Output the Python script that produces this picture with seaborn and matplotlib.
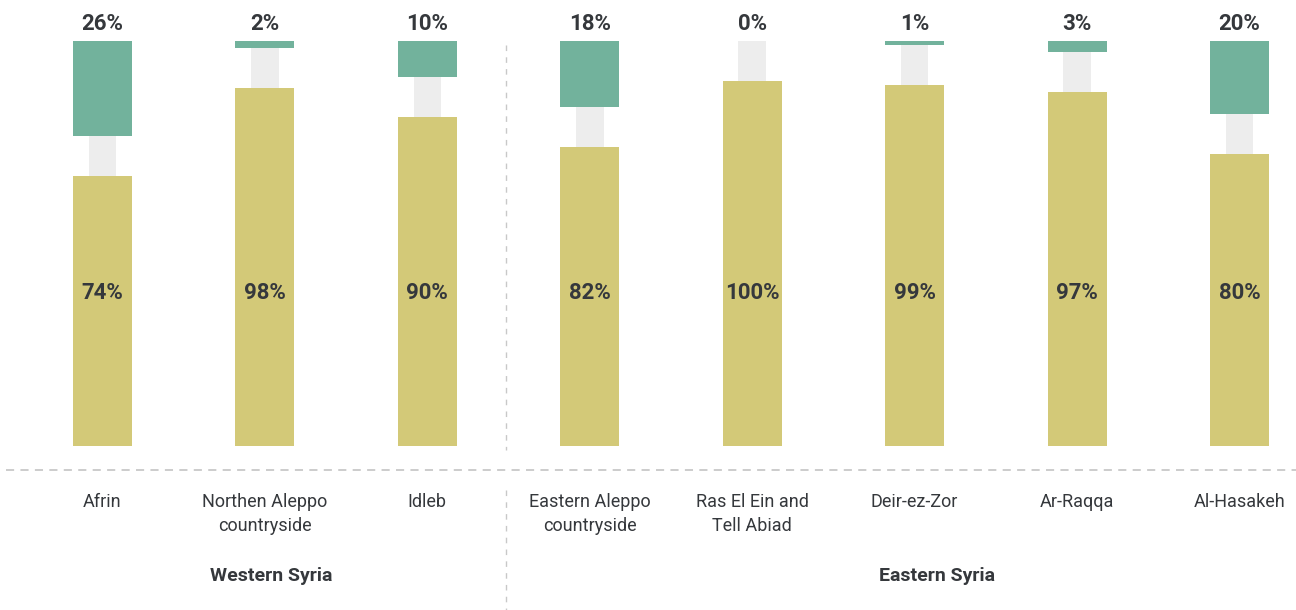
import matplotlib
matplotlib.use("Agg")
import matplotlib.pyplot as plt
import seaborn as sns
import pandas as pd

# Share of each answer per area (percent)
areas = [
    "Afrin",
    "Northen Aleppo\ncountryside",
    "Idleb",
    "Eastern Aleppo\ncountryside",
    "Ras El Ein and\nTell Abiad",
    "Deir-ez-Zor",
    "Ar-Raqqa",
    "Al-Hasakeh",
]
yes_pct = [74, 98, 90, 82, 100, 99, 97, 80]
no_pct = [26, 2, 10, 18, 0, 1, 3, 20]
groups = ["Western Syria", "Eastern Syria"]

YELLOW = "#D3C978"
GREEN = "#72B29C"
TRACK = "#EDEDED"
TEXT = "#35383C"
RULE = "#C8C8C8"

TOP = 1.1096  # full column height, 100% == 1.0

df = pd.DataFrame({
    "area": areas,
    "yes": [v / 100 for v in yes_pct],
    "no": [-v / 100 for v in no_pct],
    "track": [TOP] * len(areas),
})

sns.set_theme(style="white")
plt.rcParams["font.family"] = ["Roboto", "DejaVu Sans"]

fig = plt.figure(figsize=(12.96, 6.10), dpi=100)
ax = fig.add_axes([0, 0, 1, 1])

# thin background track behind each column
sns.barplot(data=df, x="area", y="track", color=TRACK, saturation=1,
            width=0.17, ax=ax, linewidth=0)
# bottom-up share
sns.barplot(data=df, x="area", y="yes", color=YELLOW, saturation=1,
            width=0.363, ax=ax, linewidth=0)
# top-down share, hanging from the top of the track
sns.barplot(data=df, x="area", y="no", color=GREEN, saturation=1,
            width=0.363, ax=ax, linewidth=0, bottom=TOP)

ax.set_xlim(-0.631, 7.348)
ax.set_ylim(-0.4493, 1.2219)
ax.axis("off")

for i, (a, y, n) in enumerate(zip(areas, yes_pct, no_pct)):
    ax.text(i, 1.156, f"{n}%", ha="center", va="center", fontsize=16,
            fontweight="bold", color=TEXT)
    ax.text(i, 0.419, f"{y}%", ha="center", va="center", fontsize=16,
            fontweight="bold", color=TEXT)
    ax.text(i, -0.128, a, ha="center", va="top", fontsize=13,
            color=TEXT, linespacing=1.42, multialignment="center")

# baseline rule and group divider
ax.plot([-0.594, 7.348], [-0.0658, -0.0658], color=RULE, lw=1.3,
        dashes=(4.5, 3.5), clip_on=False)
ax.plot([2.484, 2.484], [1.0986, -0.011], color=RULE, lw=1.0,
        dashes=(4, 4.5), clip_on=False)
ax.plot([2.484, 2.484], [-0.1205, -0.4493], color=RULE, lw=1.0,
        dashes=(4, 4.5), clip_on=False)

ax.text(1.037, -0.356, groups[0], ha="center", va="center", fontsize=14,
        fontweight="bold", color=TEXT)
ax.text(5.14, -0.356, groups[1], ha="center", va="center", fontsize=14,
        fontweight="bold", color=TEXT)

fig.savefig("out.png", dpi=100)
